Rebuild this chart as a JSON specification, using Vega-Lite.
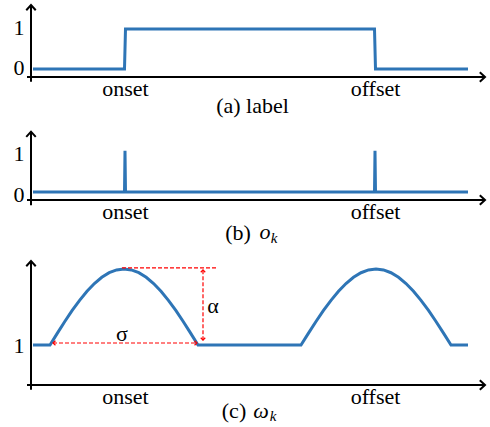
{
  "$schema": "https://vega.github.io/schema/vega-lite/v6.json",
  "padding": 0,
  "spacing": 53,
  "bounds": "flush",
  "config": {
    "font": "Liberation Serif",
    "view": {"stroke": null},
    "axis": {"domain": false, "ticks": false, "grid": false, "title": null, "labelFont": "Liberation Serif", "labelFontSize": 22, "labelColor": "#000"}
  },
  "datasets": {
    "axesA": [{"t": -0.08, "t2": 9.08, "v": -0.2, "v2": -0.2}, {"t": 0, "t2": 0, "v": -0.32, "v2": 1.6}],
    "arrowsA": [{"t": 0, "v": 1.6, "dir": "up"}, {"t": 9.08, "v": -0.2, "dir": "right"}],
    "labelA": [{"t": 0.04, "v": 0}, {"t": 1.87, "v": 0}, {"t": 1.89, "v": 1}, {"t": 6.87, "v": 1}, {"t": 6.89, "v": 0}, {"t": 8.74, "v": 0}],
    "capA": [{"t": 4.43, "v": -1.1, "txt": "(a) label"}],
    "axesB": [{"t": -0.08, "t2": 9.08, "v": -0.195, "v2": -0.195}, {"t": 0, "t2": 0, "v": -0.32, "v2": 1.46}],
    "arrowsB": [{"t": 0, "v": 1.46, "dir": "up"}, {"t": 9.08, "v": -0.195, "dir": "right"}],
    "okB": [{"t": 0.04, "v": 0}, {"t": 1.87, "v": 0}, {"t": 1.88, "v": 1}, {"t": 1.89, "v": 0}, {"t": 6.87, "v": 0}, {"t": 6.88, "v": 1}, {"t": 6.89, "v": 0}, {"t": 8.74, "v": 0}],
    "capB": [{"t": 4.14, "v": -1.162, "txt": "(b)"}],
    "mathB": [{"t": 4.68, "v": -1.14, "txt": "o"}],
    "subB": [{"t": 4.86, "v": -1.235, "txt": "k"}],
    "axesC": [{"t": -0.08, "t2": 9.08, "v": 0, "v2": 0}, {"t": 0, "t2": 0, "v": -0.12, "v2": 3.1}],
    "arrowsC": [{"t": 0, "v": 3.1, "dir": "up"}, {"t": 9.08, "v": 0, "dir": "right"}],
    "omegaC": [
      {"t": 0.04, "v": 1},
      {"t": 0.38, "v": 1}, {"t": 0.528, "v": 1.297}, {"t": 0.676, "v": 1.587}, {"t": 0.824, "v": 1.863}, {"t": 0.972, "v": 2.117}, {"t": 1.12, "v": 2.343}, {"t": 1.268, "v": 2.537}, {"t": 1.416, "v": 2.693}, {"t": 1.564, "v": 2.807}, {"t": 1.712, "v": 2.877}, {"t": 1.86, "v": 2.9}, {"t": 2.008, "v": 2.877}, {"t": 2.156, "v": 2.807}, {"t": 2.304, "v": 2.693}, {"t": 2.452, "v": 2.537}, {"t": 2.6, "v": 2.343}, {"t": 2.748, "v": 2.117}, {"t": 2.896, "v": 1.863}, {"t": 3.044, "v": 1.587}, {"t": 3.192, "v": 1.297}, {"t": 3.34, "v": 1},
      {"t": 5.4, "v": 1}, {"t": 5.55, "v": 1.297}, {"t": 5.7, "v": 1.587}, {"t": 5.85, "v": 1.863}, {"t": 6.0, "v": 2.117}, {"t": 6.15, "v": 2.343}, {"t": 6.3, "v": 2.537}, {"t": 6.45, "v": 2.693}, {"t": 6.6, "v": 2.807}, {"t": 6.75, "v": 2.877}, {"t": 6.9, "v": 2.9}, {"t": 7.05, "v": 2.877}, {"t": 7.2, "v": 2.807}, {"t": 7.35, "v": 2.693}, {"t": 7.5, "v": 2.537}, {"t": 7.65, "v": 2.343}, {"t": 7.8, "v": 2.117}, {"t": 7.95, "v": 1.863}, {"t": 8.1, "v": 1.587}, {"t": 8.25, "v": 1.297}, {"t": 8.4, "v": 1},
      {"t": 8.74, "v": 1}
    ],
    "redRulesC": [{"t": 1.82, "t2": 3.72, "v": 2.93, "v2": 2.93}, {"t": 3.44, "t2": 3.44, "v": 1.12, "v2": 2.88}, {"t": 0.44, "t2": 3.32, "v": 1.05, "v2": 1.05}],
    "redHeadsC": [{"t": 3.44, "v": 2.88, "dir": "up"}, {"t": 3.44, "v": 1.12, "dir": "down"}, {"t": 0.44, "v": 1.05, "dir": "left"}, {"t": 3.32, "v": 1.05, "dir": "right"}],
    "symC": [{"t": 1.82, "v": 1.27, "txt": "σ"}, {"t": 3.64, "v": 1.98, "txt": "α"}],
    "capC": [{"t": 4.06, "v": -0.825, "txt": "(c)"}],
    "mathC": [{"t": 4.6, "v": -0.825, "txt": "ω"}],
    "subC": [{"t": 4.84, "v": -0.9, "txt": "k"}]
  },
  "vconcat": [
    {
      "width": 455,
      "height": 75,
      "encoding": {
        "x": {"field": "t", "type": "quantitative", "scale": {"domain": [0, 9.1], "nice": false, "zero": false},
              "axis": {"values": [1.88, 6.88], "labelExpr": "datum.value < 4 ? 'onset' : 'offset'", "labelPadding": 1, "labelFlush": false}},
        "y": {"field": "v", "type": "quantitative", "scale": {"domain": [-0.2, 1.675], "nice": false, "zero": false},
              "axis": {"values": [0, 1], "labelPadding": 7, "minExtent": 31, "maxExtent": 31, "labelOffset": -2}}
      },
      "layer": [
        {"data": {"name": "axesA"}, "mark": {"type": "rule", "color": "#000", "strokeWidth": 2}, "encoding": {"x2": {"field": "t2"}, "y2": {"field": "v2"}}},
        {"data": {"name": "arrowsA"}, "mark": {"type": "point", "filled": false, "color": "#000", "strokeWidth": 2, "opacity": 1, "size": 90},
         "encoding": {"shape": {"field": "dir", "type": "nominal", "legend": null, "scale": {"domain": ["up", "right", "down", "left"], "range": ["M-1,1.1L0,0L1,1.1", "M-1.1,-1L0,0L-1.1,1", "M-1,-1.1L0,0L1,-1.1", "M1.1,-1L0,0L1.1,1"]}}}},
        {"data": {"name": "labelA"}, "mark": {"type": "line", "color": "#2E75B6", "strokeWidth": 3}, "encoding": {}},
        {"data": {"name": "capA"}, "mark": {"type": "text", "font": "Liberation Serif", "fontSize": 22, "color": "#000", "baseline": "alphabetic", "align": "center"}, "encoding": {"text": {"field": "txt"}}}
      ]
    },
    {
      "width": 455,
      "height": 70,
      "encoding": {
        "x": {"field": "t", "type": "quantitative", "scale": {"domain": [0, 9.1], "nice": false, "zero": false},
              "axis": {"values": [1.88, 6.88], "labelExpr": "datum.value < 4 ? 'onset' : 'offset'", "labelPadding": 1, "labelFlush": false}},
        "y": {"field": "v", "type": "quantitative", "scale": {"domain": [-0.195, 1.5], "nice": false, "zero": false},
              "axis": {"values": [0, 1], "labelPadding": 7, "minExtent": 31, "maxExtent": 31, "labelOffset": 3}}
      },
      "layer": [
        {"data": {"name": "axesB"}, "mark": {"type": "rule", "color": "#000", "strokeWidth": 2}, "encoding": {"x2": {"field": "t2"}, "y2": {"field": "v2"}}},
        {"data": {"name": "arrowsB"}, "mark": {"type": "point", "filled": false, "color": "#000", "strokeWidth": 2, "opacity": 1, "size": 90},
         "encoding": {"shape": {"field": "dir", "type": "nominal", "legend": null, "scale": {"domain": ["up", "right", "down", "left"], "range": ["M-1,1.1L0,0L1,1.1", "M-1.1,-1L0,0L-1.1,1", "M-1,-1.1L0,0L1,-1.1", "M1.1,-1L0,0L1.1,1"]}}}},
        {"data": {"name": "okB"}, "mark": {"type": "line", "color": "#2E75B6", "strokeWidth": 3}, "encoding": {}},
        {"data": {"name": "capB"}, "mark": {"type": "text", "font": "Liberation Serif", "fontSize": 22, "color": "#000", "baseline": "alphabetic", "align": "center"}, "encoding": {"text": {"field": "txt"}}},
        {"data": {"name": "mathB"}, "mark": {"type": "text", "font": "Liberation Serif", "fontSize": 22, "fontStyle": "italic", "color": "#000", "baseline": "alphabetic", "align": "center"}, "encoding": {"text": {"field": "txt"}}},
        {"data": {"name": "subB"}, "mark": {"type": "text", "font": "Liberation Serif", "fontSize": 15, "fontStyle": "italic", "color": "#000", "baseline": "alphabetic", "align": "center"}, "encoding": {"text": {"field": "txt"}}}
      ]
    },
    {
      "width": 455,
      "height": 132,
      "encoding": {
        "x": {"field": "t", "type": "quantitative", "scale": {"domain": [0, 9.1], "nice": false, "zero": false},
              "axis": {"values": [1.88, 6.88], "labelExpr": "datum.value < 4 ? 'onset' : 'offset'", "labelPadding": 1, "labelFlush": false}},
        "y": {"field": "v", "type": "quantitative", "scale": {"domain": [0, 3.3], "nice": false, "zero": false},
              "axis": {"values": [1], "labelPadding": 7, "minExtent": 31, "maxExtent": 31}}
      },
      "layer": [
        {"data": {"name": "axesC"}, "mark": {"type": "rule", "color": "#000", "strokeWidth": 2}, "encoding": {"x2": {"field": "t2"}, "y2": {"field": "v2"}}},
        {"data": {"name": "arrowsC"}, "mark": {"type": "point", "filled": false, "color": "#000", "strokeWidth": 2, "opacity": 1, "size": 90},
         "encoding": {"shape": {"field": "dir", "type": "nominal", "legend": null, "scale": {"domain": ["up", "right", "down", "left"], "range": ["M-1,1.1L0,0L1,1.1", "M-1.1,-1L0,0L-1.1,1", "M-1,-1.1L0,0L1,-1.1", "M1.1,-1L0,0L1.1,1"]}}}},
        {"data": {"name": "omegaC"}, "mark": {"type": "line", "color": "#2E75B6", "strokeWidth": 3}, "encoding": {}},
        {"data": {"name": "redRulesC"}, "mark": {"type": "rule", "color": "#FF0000", "strokeWidth": 1.2, "strokeDash": [4, 2]}, "encoding": {"x2": {"field": "t2"}, "y2": {"field": "v2"}}},
        {"data": {"name": "redHeadsC"}, "mark": {"type": "point", "filled": false, "color": "#FF0000", "strokeWidth": 1.2, "opacity": 1, "size": 20},
         "encoding": {"shape": {"field": "dir", "type": "nominal", "legend": null, "scale": {"domain": ["up", "right", "down", "left"], "range": ["M-1,1.1L0,0L1,1.1", "M-1.1,-1L0,0L-1.1,1", "M-1,-1.1L0,0L1,-1.1", "M1.1,-1L0,0L1.1,1"]}}}},
        {"data": {"name": "symC"}, "mark": {"type": "text", "font": "Liberation Serif", "fontSize": 22, "color": "#000", "baseline": "middle", "align": "center"}, "encoding": {"text": {"field": "txt"}}},
        {"data": {"name": "capC"}, "mark": {"type": "text", "font": "Liberation Serif", "fontSize": 22, "color": "#000", "baseline": "alphabetic", "align": "center"}, "encoding": {"text": {"field": "txt"}}},
        {"data": {"name": "mathC"}, "mark": {"type": "text", "font": "Liberation Serif", "fontSize": 22, "fontStyle": "italic", "color": "#000", "baseline": "alphabetic", "align": "center"}, "encoding": {"text": {"field": "txt"}}},
        {"data": {"name": "subC"}, "mark": {"type": "text", "font": "Liberation Serif", "fontSize": 15, "fontStyle": "italic", "color": "#000", "baseline": "alphabetic", "align": "center"}, "encoding": {"text": {"field": "txt"}}}
      ]
    }
  ]
}
